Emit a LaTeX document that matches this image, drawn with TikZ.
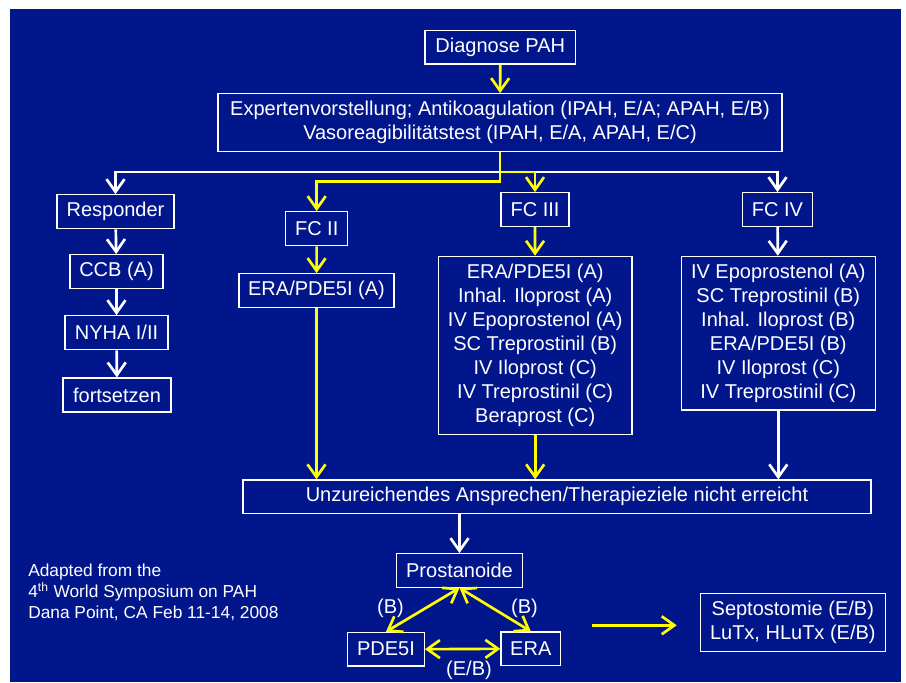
\documentclass[tikz,border=0pt]{standalone}
\usepackage{fontspec}
\setmainfont{Liberation Sans}
\usetikzlibrary{arrows.meta}
\definecolor{bgblue}{RGB}{2,22,140}
\definecolor{ylw}{RGB}{255,255,0}
\begin{document}
\begin{tikzpicture}[x=0.75pt,y=-0.75pt,
  box/.style={draw=white, line width=0.9pt, text=white, inner sep=0pt, align=center,
    font=\fontsize{15}{18}\selectfont},
  lbl/.style={text=white, inner sep=0pt, font=\fontsize{15}{18}\selectfont},
  wline/.style={draw=white, line width=2pt},
  yline/.style={draw=ylw, line width=2pt},
  >={Straight Barb[length=9.5pt,width=13.5pt]}]
\useasboundingbox (0,0) rectangle (906,682);
\fill[white] (0,0) rectangle (906,682);
\fill[bgblue] (10,9) rectangle (901,682);

% nodes
\node[box, minimum width=113pt, minimum height=25pt] (diag) at (500.3,47.3) {Diagnose PAH};
\node[box, minimum width=423pt, minimum height=43.5pt] (exp) at (500,122.7)
  {Expertenvorstellung; Antikoagulation (IPAH, E/A; APAH, E/B)\\Vasoreagibilitätstest (IPAH, E/A, APAH, E/C)};
\node[box, minimum width=87.75pt, minimum height=25.5pt] (resp) at (115.5,211.7) {Responder};
\node[box, minimum width=69.75pt, minimum height=25.5pt] (ccb) at (116.5,271.7) {CCB (A)};
\node[box, minimum width=77.25pt, minimum height=25.5pt] (nyha) at (116.5,332.7) {NYHA I/II};
\node[box, minimum width=81pt, minimum height=25.5pt] (fort) at (117,395) {fortsetzen};
\node[box, minimum width=46.5pt, minimum height=25.5pt] (fc2) at (316.7,228.7) {FC II};
\node[box, minimum width=116.25pt, minimum height=25.5pt] (era2) at (316.5,290.7) {ERA/PDE5I (A)};
\node[box, minimum width=51pt, minimum height=25.2pt] (fc3) at (535,209.5) {FC III};
\node[box, minimum width=145.3pt, minimum height=133.5pt] (fc3box) at (535.2,345.3)
  {ERA/PDE5I (A)\\Inhal. Iloprost (A)\\IV Epoprostenol (A)\\SC Treprostinil (B)\\IV Iloprost (C)\\IV Treprostinil (C)\\Beraprost (C)};
\node[box, minimum width=52.2pt, minimum height=25.2pt] (fc4) at (777.5,209.5) {FC IV};
\node[box, minimum width=145.5pt, minimum height=115.3pt] (fc4box) at (778.3,333.2)
  {IV Epoprostenol (A)\\SC Treprostinil (B)\\Inhal. Iloprost (B)\\ERA/PDE5I (B)\\IV Iloprost (C)\\IV Treprostinil (C)};
\node[box, minimum width=471pt, minimum height=25.3pt] (unz) at (557,496.8)
  {Unzureichendes Ansprechen/Therapieziele nicht erreicht};
\node[box, minimum width=94.2pt, minimum height=25.2pt] (pros) at (459.5,570.5) {Prostanoide};
\node[box, minimum width=57.5pt, minimum height=25.3pt] (pde) at (386,649.2) {PDE5I};
\node[box, minimum width=44.8pt, minimum height=25.3pt] (era) at (530.8,648.8) {ERA};
\node[box, minimum width=138.75pt, minimum height=43.5pt] (sept) at (792.8,622.3)
  {Septostomie (E/B)\\LuTx, HLuTx (E/B)};
\node[text=white, inner sep=0pt, anchor=north west, align=left,
  font=\fontsize{13}{15.75}\selectfont] (note) at (28,563.5)
  {Adapted from the\\4\textsuperscript{th} World Symposium on PAH\\Dana Point, CA Feb 11-14, 2008};

% labels
\node[lbl] (lb1) at (390.5,608) {(B)};
\node[lbl] (lb2) at (524.5,608.7) {(B)};
\node[lbl] (lb3) at (469,670) {(E/B)};

% coordinates
\coordinate (br) at (500,172);
\coordinate (br2) at (500,181.7);
\coordinate (fa1) at (592.3,625.3);
\coordinate (fa2) at (676.7,625.3);

% white connectors
\draw[wline,->] (br) -| (resp.north);
\draw[wline,->] (br) -| (fc4.north);
\draw[wline,->] (resp) -- (ccb);
\draw[wline,->] (ccb) -- (nyha);
\draw[wline,->] (nyha) -- (fort);
\draw[wline,->] (fc4) -- (fc4box);
\draw[wline,->] (fc4box.south) -- (fc4box.south |- unz.north);
\draw[wline,->] (pros.north |- unz.south) -- (pros.north);

% yellow connectors
\draw[yline,->] (diag) -- (exp);
\draw[yline,->] (exp.south) -- (br) -| (fc3.north);
\draw[yline,->] (exp.south) -- (br2) -| (fc2.north);
\draw[yline,->] (fc2) -- (era2);
\draw[yline,->] (era2.south) -- (era2.south |- unz.north);
\draw[yline,->] (fc3) -- (fc3box);
\draw[yline,->] (fc3box.south) -- (fc3box.south |- unz.north);
\draw[yline,<->] (pros.south) -- (pde.north);
\draw[yline,<->] (pros.south) -- (era.north);
\draw[yline,<->] (pde.east) -- (era.west);
\draw[yline,->] (fa1) -- (fa2);
\end{tikzpicture}
\end{document}
